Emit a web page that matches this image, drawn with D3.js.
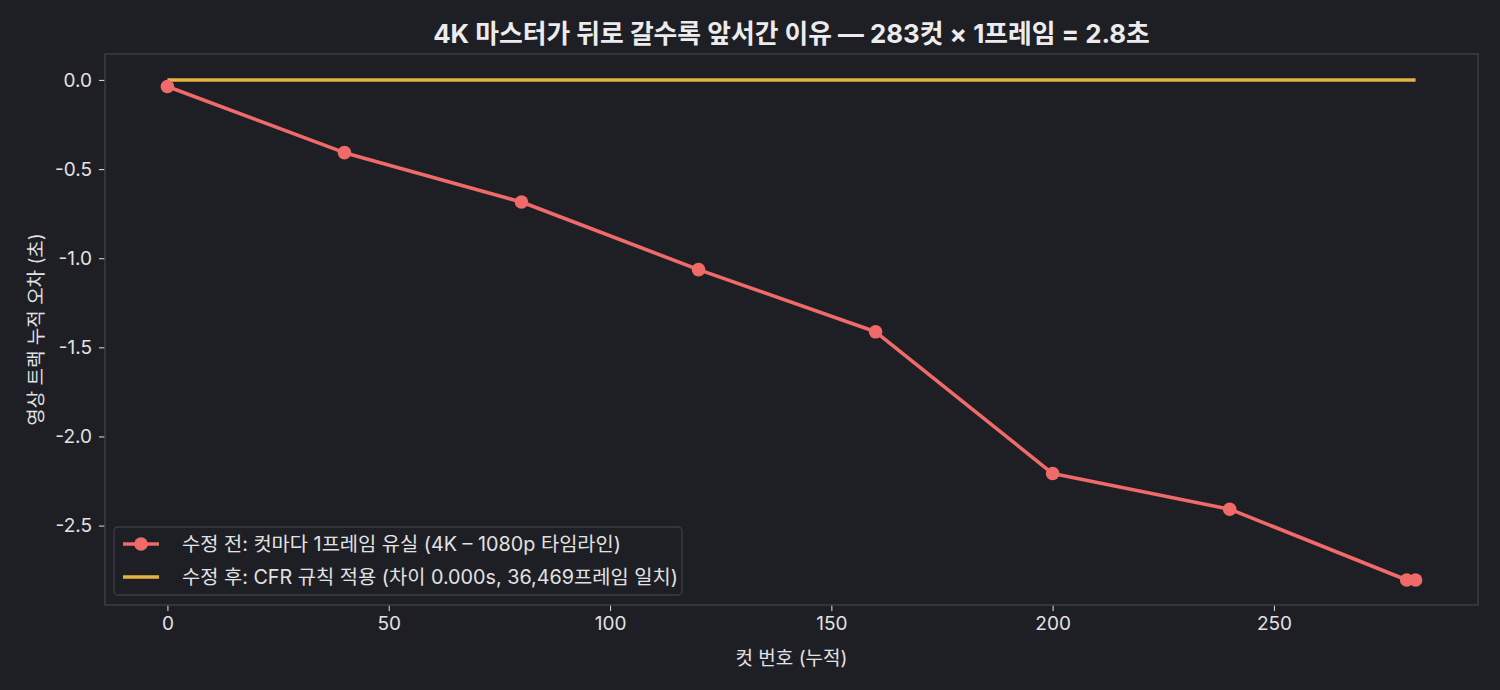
<!DOCTYPE html>
<html><head><meta charset="utf-8">
<script src="https://cdn.jsdelivr.net/npm/d3@7/dist/d3.min.js"></script>
<style>
html,body{margin:0;padding:0;background:#1e1f24;}
svg{display:block;font-family:Inter,"Noto Sans CJK KR",sans-serif;}
</style></head>
<body>
<svg id="c" width="1500" height="690"></svg>
<script>
const cuts = [0, 40, 80, 120, 160, 200, 240, 280, 282];
const beforeErr = [-0.037, -0.408, -0.685, -1.064, -1.413, -2.208, -2.408, -2.805, -2.805];
const afterCuts = [0, 282];
const afterErr = [0, 0];
const xTicks = [0, 50, 100, 150, 200, 250];
const yTicks = [0.0, -0.5, -1.0, -1.5, -2.0, -2.5];
const title = "4K 마스터가 뒤로 갈수록 앞서간 이유 — 283컷 × 1프레임 = 2.8초";
const xLabel = "컷 번호 (누적)";
const yLabel = "영상 트랙 누적 오차 (초)";
const legendLabels = ["수정 전: 컷마다 1프레임 유실 (4K – 1080p 타임라인)", "수정 후: CFR 규칙 적용 (차이 0.000s, 36,469프레임 일치)"];
const colors = ["#f06a6a", "#e8b243"];

const svg = d3.select("#c");
const L = 105, R = 1478, T = 54, B = 605;
const x = d3.scaleLinear().domain([-14.1, 296.1]).range([L, R]);
const y = d3.scaleLinear().domain([-2.9455, 0.1455]).range([B, T]);
const textCol = "#e2e2e4", spine = "#3d3e44";
const FF = 'Inter,"Noto Sans CJK KR",sans-serif';

svg.append("rect").attr("width",1500).attr("height",690).attr("fill","#1e1f24");

// axes
const xa = svg.append("g").attr("transform",`translate(0,${B})`)
  .call(d3.axisBottom(x).tickValues(xTicks).tickFormat(d3.format("d")).tickSize(6).tickPadding(6));
const ya = svg.append("g").attr("transform",`translate(${L},0)`)
  .call(d3.axisLeft(y).tickValues(yTicks).tickFormat(d3.format(".1f")).tickSize(6).tickPadding(7));
[xa, ya].forEach(g => {
  g.attr("font-size", null).attr("font-family", null);
  g.select(".domain").remove();
  g.selectAll(".tick line").attr("stroke","#d0d0d2").attr("stroke-width",1.1);
  g.selectAll(".tick text").attr("fill",textCol).style("font-size","19px").style("font-family",FF);
});
ya.selectAll(".tick text").text(d => d === 0 ? "0.0" : d3.format(".1f")(d).replace("−","-"));

// frame
svg.append("rect").attr("x",L).attr("y",T).attr("width",R-L).attr("height",B-T)
  .attr("fill","none").attr("stroke",spine).attr("stroke-width",1.5);

// lines
const line = d3.line().x(d=>x(d[0])).y(d=>y(d[1]));
svg.append("path").datum(afterCuts.map((c,i)=>[c,afterErr[i]]))
  .attr("d",line).attr("fill","none").attr("stroke",colors[1]).attr("stroke-width",3.6);
svg.append("path").datum(cuts.map((c,i)=>[c,beforeErr[i]]))
  .attr("d",line).attr("fill","none").attr("stroke",colors[0]).attr("stroke-width",3.6).attr("stroke-linejoin","round");
svg.selectAll("circle.pt").data(cuts.map((c,i)=>[c,beforeErr[i]])).enter().append("circle")
  .attr("cx",d=>x(d[0])).attr("cy",d=>y(d[1])).attr("r",6.8).attr("fill",colors[0]);

// title & labels
svg.append("text").attr("x",(L+R)/2).attr("y",43).attr("text-anchor","middle")
  .attr("fill","#ececee").style("font-size","25.8px").attr("font-weight","bold").text(title);
svg.append("text").attr("x",(L+R)/2).attr("y",665).attr("text-anchor","middle")
  .attr("fill",textCol).style("font-size","19px").text(xLabel);
svg.append("text").attr("transform",`translate(43,${(T+B)/2}) rotate(-90)`).attr("text-anchor","middle")
  .attr("fill",textCol).style("font-size","19px").text(yLabel);

// legend
const lg = svg.append("g");
lg.append("rect").attr("x",114).attr("y",527).attr("width",568).attr("height",68).attr("rx",4)
  .attr("fill","#1e1f24").attr("stroke","#3d3e44").attr("stroke-width",1.3);
legendLabels.forEach((t,i)=>{
  const yy = 544 + i*33;
  lg.append("line").attr("x1",123).attr("x2",159).attr("y1",yy).attr("y2",yy)
    .attr("stroke",colors[i]).attr("stroke-width",3.6);
  if(i===0) lg.append("circle").attr("cx",141).attr("cy",yy).attr("r",6.8).attr("fill",colors[0]);
  lg.append("text").attr("x",182).attr("y",yy+6.5).attr("fill",textCol).style("font-size","19.8px").text(t);
});
</script>
</body></html>
